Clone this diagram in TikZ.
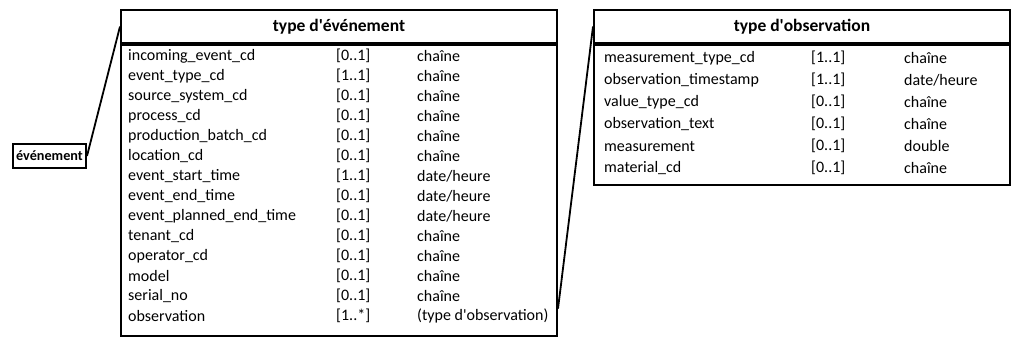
\documentclass[tikz,border=0pt]{standalone}
\usepackage{fontspec}
\setmainfont{Carlito}
\usepackage{tikz}

\begin{document}
\begin{tikzpicture}
  [x=1pt,y=-1pt,every node/.style={inner sep=0pt,font=\fontsize{16}{18}\selectfont},
   head/.style={draw,line width=2pt,anchor=north west,minimum height=33pt,font=\fontsize{17.5}{19}\selectfont\bfseries},
   body/.style={draw,line width=2pt,anchor=north west},
   cell/.style={anchor=west},
   link/.style={line width=1.8pt}]
  \useasboundingbox (0,0) rectangle (1011,337);

  % type d'evenement
  \node[head,minimum width=436pt] (evth) at (120,9) {type d\textquotesingle événement};
  \node[body,minimum width=436pt,minimum height=291pt] (evtb) at (evth.south west) {};
  \foreach \nm/\card/\typ [count=\i from 0] in {
      incoming\_event\_cd/{[0..1]}/chaîne,
      event\_type\_cd/{[1..1]}/chaîne,
      source\_system\_cd/{[0..1]}/chaîne,
      process\_cd/{[0..1]}/chaîne,
      production\_batch\_cd/{[0..1]}/chaîne,
      location\_cd/{[0..1]}/chaîne,
      event\_start\_time/{[1..1]}/date\slash heure,
      event\_end\_time/{[0..1]}/date\slash heure,
      event\_planned\_end\_time/{[0..1]}/date\slash heure,
      tenant\_cd/{[0..1]}/chaîne,
      operator\_cd/{[0..1]}/chaîne,
      model/{[0..1]}/chaîne,
      serial\_no/{[0..1]}/chaîne,
      observation/{[1..*]}/(type d\textquotesingle observation)}
  {
    \node[cell] (en\i) at (128,56+20*\i) {\nm};
    \node[cell] (ec\i) at (336,56+20*\i) {\card};
    \node[cell] (et\i) at (417,56+20*\i) {\typ};
  }

  % type d'observation
  \node[head,minimum width=416pt] (obsh) at (593,9) {type d\textquotesingle observation};
  \node[body,minimum width=416pt,minimum height=140pt] (obsb) at (obsh.south west) {};
  \foreach \nm/\card/\typ [count=\i from 0] in {
      measurement\_type\_cd/{[1..1]}/chaîne,
      observation\_timestamp/{[1..1]}/date\slash heure,
      value\_type\_cd/{[0..1]}/chaîne,
      observation\_text/{[0..1]}/chaîne,
      measurement/{[0..1]}/double,
      material\_cd/{[0..1]}/chaîne}
  {
    \node[cell] (on\i) at (604,58+22*\i) {\nm};
    \node[cell] (oc\i) at (811,58+22*\i) {\card};
    \node[cell] (ot\i) at (904,58+22*\i) {\typ};
  }

  \node[draw,line width=2pt,minimum width=73pt,minimum height=24pt,font=\fontsize{14.2}{16}\selectfont\bfseries] (evenement) at (49.5,156) {événement};

  \draw[link] (evenement.east) -- (evth.west);
  \draw[link] (evtb.east |- et13.north) -- (obsh.west);
\end{tikzpicture}
\end{document}
